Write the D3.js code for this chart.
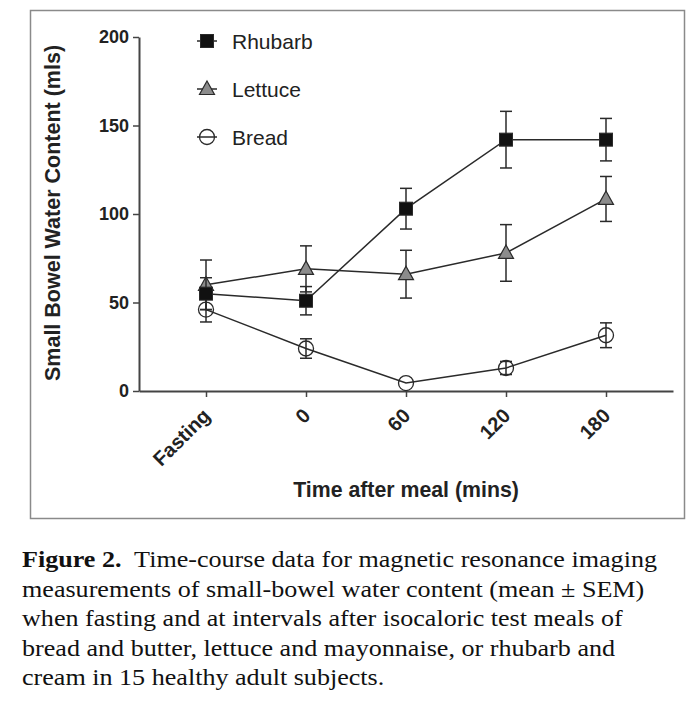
<!DOCTYPE html>
<html>
<head>
<meta charset="utf-8">
<script src="https://cdn.jsdelivr.net/npm/d3@7"></script>
<style>
  body { margin: 0; background: #fff; }
  svg { display: block; }
</style>
</head>
<body>
<div id="chart"></div>
<script>
// Daten
const categories = ["Fasting", "0", "60", "120", "180"];
const yTicks = [0, 50, 100, 150, 200];

const rhubarbMean = [55, 51, 103, 142, 142];
const rhubarbSem  = [9, 8, 11.5, 16, 12];
const lettuceMean = [60, 69, 66, 78, 108.5];
const lettuceSem  = [14, 13, 13.5, 16, 12.7];
const breadMean   = [46, 24, 4.5, 13, 31.5];
const breadSem    = [7, 5.5, 1, 3.7, 7];

const captionLines = [
  [{t: "Figure 2.", b: true}, {t: "\u00a0 Time-course data for magnetic resonance imaging"}],
  [{t: "measurements of small-bowel water content (mean \u00b1 SEM)"}],
  [{t: "when fasting and at intervals after isocaloric test meals of"}],
  [{t: "bread and butter, lettuce and mayonnaise, or rhubarb and"}],
  [{t: "cream in 15 healthy adult subjects."}]
];

const series = [
  {name: "Bread",   mean: breadMean,   sem: breadSem,   shape: "circle"},
  {name: "Lettuce", mean: lettuceMean, sem: lettuceSem, shape: "triangle"},
  {name: "Rhubarb", mean: rhubarbMean, sem: rhubarbSem, shape: "square"}
];

const W = 700, H = 714;
const ink = "#2a2a2a";
const sans = "'Liberation Sans', Arial, sans-serif";

const svg = d3.select("#chart").append("svg")
    .attr("width", W)
    .attr("height", H);

// Rahmen um die Grafik
svg.append("rect")
    .attr("x", 30.5).attr("y", 10.5)
    .attr("width", 654).attr("height", 508)
    .attr("fill", "#fff")
    .attr("stroke", "#8a8a8a")
    .attr("stroke-width", 1.5);

const x = d3.scalePoint().domain(categories).range([139, 673]).padding(0.67);
const y = d3.scaleLinear().domain([0, 200]).range([391, 37]);

// y-Achse
const yAxis = svg.append("g")
    .attr("transform", "translate(139,0)")
    .call(d3.axisLeft(y).tickValues(yTicks).tickSize(6).tickPadding(4).tickSizeOuter(0));
yAxis.select(".domain").attr("stroke", "#444").attr("stroke-width", 2);
yAxis.selectAll(".tick line").attr("stroke", "#444").attr("stroke-width", 1.5);
yAxis.selectAll(".tick text")
    .attr("fill", "#222")
    .style("font", "bold 18px " + sans);

// x-Achse
const xAxis = svg.append("g")
    .attr("transform", "translate(0,391)")
    .call(d3.axisBottom(x).tickSize(6).tickSizeOuter(0));
xAxis.select(".domain").attr("stroke", "#444").attr("stroke-width", 2);
xAxis.selectAll(".tick line").attr("stroke", "#444").attr("stroke-width", 1.5);
xAxis.selectAll(".tick text")
    .attr("fill", "#222")
    .attr("text-anchor", "end")
    .attr("dy", null)
    .attr("y", 0)
    .attr("transform", "translate(5,26) rotate(-45)")
    .style("font", "bold 20px " + sans);

// Achsentitel
svg.append("text")
    .attr("transform", "translate(60,213) rotate(-90)")
    .attr("text-anchor", "middle")
    .attr("fill", "#222")
    .style("font", "bold 21.5px " + sans)
    .text("Small Bowel Water Content (mls)");

svg.append("text")
    .attr("x", 406).attr("y", 497)
    .attr("text-anchor", "middle")
    .attr("fill", "#222")
    .style("font", "bold 21.3px " + sans)
    .text("Time after meal (mins)");

function drawMarker(sel, shape) {
  if (shape === "square") {
    sel.append("rect")
        .attr("x", -6.5).attr("y", -6.5).attr("width", 13).attr("height", 13)
        .attr("fill", "#111").attr("stroke", ink).attr("stroke-width", 1);
  } else if (shape === "triangle") {
    sel.append("path")
        .attr("d", "M0,-8L7.5,5.5L-7.5,5.5Z")
        .attr("fill", "#8c8c8c").attr("stroke", ink).attr("stroke-width", 1.2);
  } else {
    sel.append("circle")
        .attr("r", 7.5)
        .attr("fill", "none").attr("stroke", ink).attr("stroke-width", 1.3);
  }
}

const line = d3.line()
    .x((d, i) => x(categories[i]))
    .y(d => y(d));

series.forEach(s => {
  const g = svg.append("g");
  // Linie
  g.append("path")
      .datum(s.mean)
      .attr("fill", "none")
      .attr("stroke", ink)
      .attr("stroke-width", 1.5)
      .attr("d", line);
  // Fehlerbalken
  s.mean.forEach((m, i) => {
    const cx = x(categories[i]);
    const top = y(m + s.sem[i]), bot = y(m - s.sem[i]);
    if (s.sem[i] < 2) return;
    const eb = g.append("g").attr("stroke", ink).attr("stroke-width", 1.5);
    eb.append("line").attr("x1", cx).attr("x2", cx).attr("y1", top).attr("y2", bot);
    eb.append("line").attr("x1", cx - 6).attr("x2", cx + 6).attr("y1", top).attr("y2", top);
    eb.append("line").attr("x1", cx - 6).attr("x2", cx + 6).attr("y1", bot).attr("y2", bot);
  });
  // Marker
  s.mean.forEach((m, i) => {
    const mk = g.append("g").attr("transform", `translate(${x(categories[i])},${y(m)})`);
    drawMarker(mk, s.shape);
  });
});

// Legende
const legendItems = [series[2], series[1], series[0]];
legendItems.forEach((s, i) => {
  const ly = 41 + i * 48;
  const lg = svg.append("g").attr("transform", `translate(207,${ly})`);
  lg.append("line").attr("x1", -10).attr("x2", 10).attr("y1", 0).attr("y2", 0)
      .attr("stroke", ink).attr("stroke-width", 1.5);
  drawMarker(lg, s.shape);
  lg.append("text")
      .attr("x", 25).attr("y", 7.5)
      .attr("fill", "#222")
      .style("font", "21px " + sans)
      .text(s.name);
});

// Bildunterschrift (im Original horizontal gestreckt)
captionLines.forEach((parts, i) => {
  const t = svg.append("text")
      .attr("transform", `translate(22,${567 + i * 29.5}) scale(1.16,1)`)
      .attr("fill", "#111")
      .style("font", "22.5px 'Liberation Serif', 'Times New Roman', serif");
  parts.forEach(p => {
    t.append("tspan").attr("font-weight", p.b ? "bold" : "normal").text(p.t);
  });
});
</script>
</body>
</html>
